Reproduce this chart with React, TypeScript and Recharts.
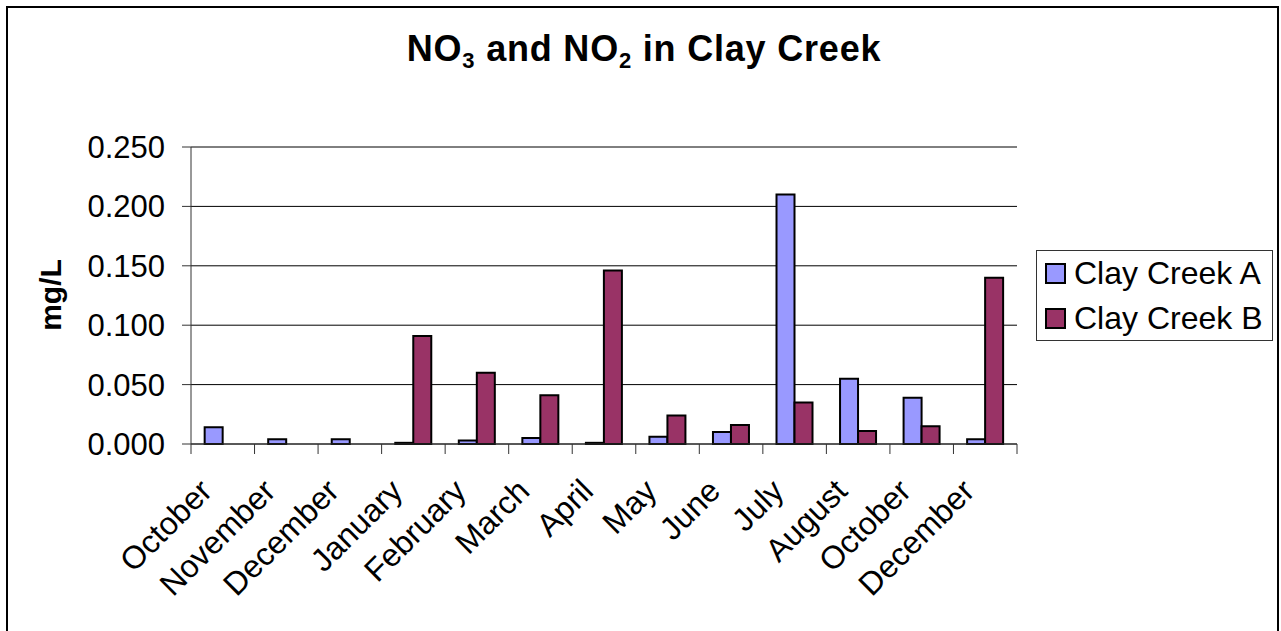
import React from "react";
import { BarChart, Bar, XAxis, YAxis, CartesianGrid } from "recharts";

const MONTHS = [
  "October", "November", "December", "January", "February", "March", "April",
  "May", "June", "July", "August", "October", "December",
];
const CLAY_A = [0.014, 0.004, 0.004, 0.001, 0.003, 0.005, 0.001, 0.006, 0.010, 0.210, 0.055, 0.039, 0.004];
const CLAY_B = [0, 0, 0, 0.091, 0.060, 0.041, 0.146, 0.024, 0.016, 0.035, 0.011, 0.015, 0.140];
const Y_TICKS = [0, 0.05, 0.1, 0.15, 0.2, 0.25];

const SERIES = [
  { key: "a", name: "Clay Creek A", color: "#9999FF" },
  { key: "b", name: "Clay Creek B", color: "#993366" },
];

const W = 1281;
const H = 631;
const FONT = '"Liberation Sans", Arial, sans-serif';
const PLOT_LEFT = 191;
const PLOT_RIGHT = 1017;
const PLOT_TOP = 147;
const PLOT_BOTTOM = 444;
const HALF_BAND = (PLOT_RIGHT - PLOT_LEFT) / MONTHS.length / 2;

const data = MONTHS.map((m, i) => ({ month: m, a: CLAY_A[i], b: CLAY_B[i] }));

// label rotated 45deg plus a tick mark at each category boundary
const MonthTick = (props: any) => {
  const { x, payload, index } = props;
  const tx = x - 9;
  const ty = PLOT_BOTTOM + 49;
  return (
    <g>
      <line x1={x - HALF_BAND} x2={x - HALF_BAND} y1={PLOT_BOTTOM} y2={PLOT_BOTTOM + 10} stroke="#333" />
      {index === MONTHS.length - 1 && (
        <line x1={x + HALF_BAND} x2={x + HALF_BAND} y1={PLOT_BOTTOM} y2={PLOT_BOTTOM + 10} stroke="#333" />
      )}
      <text
        x={tx}
        y={ty}
        textAnchor="end"
        fontSize={32}
        fontFamily={FONT}
        fill="#000"
        transform={`rotate(-45, ${tx}, ${ty})`}
      >
        {payload.value}
      </text>
    </g>
  );
};

export default function App() {
  return (
    <div style={{ position: "absolute", left: 0, top: 0, width: W, height: H, overflow: "hidden", background: "#fff" }}>
      <div
        style={{
          position: "absolute", left: 6, top: 6, width: 1273, height: 700,
          border: "2px solid #000", boxSizing: "border-box",
        }}
      />
      <BarChart
        width={W}
        height={H}
        data={data}
        margin={{ top: PLOT_TOP, right: W - PLOT_RIGHT, bottom: 0, left: 0 }}
        barCategoryGap="21.5%"
        barGap={0}
        style={{ position: "absolute", left: 0, top: 0 }}
      >
        <CartesianGrid vertical={false} stroke="#000" />
        <XAxis
          dataKey="month"
          interval={0}
          height={H - PLOT_BOTTOM}
          tickLine={false}
          axisLine={{ stroke: "#333" }}
          tick={<MonthTick />}
        />
        <YAxis
          width={PLOT_LEFT}
          domain={[0, 0.25]}
          ticks={Y_TICKS}
          tickFormatter={(v: number) => v.toFixed(3)}
          tickSize={9}
          tickMargin={17}
          tickLine={{ stroke: "#333" }}
          axisLine={{ stroke: "#333" }}
          tick={{ fill: "#000", fontSize: 31, fontFamily: FONT }}
        />
        {SERIES.map((s) => (
          <Bar
            key={s.key}
            dataKey={s.key}
            name={s.name}
            fill={s.color}
            stroke="#000"
            strokeWidth={2}
            isAnimationActive={false}
          />
        ))}
      </BarChart>
      <svg width={W} height={H} style={{ position: "absolute", left: 0, top: 0, pointerEvents: "none" }}>
        <text x={644} y={61} textAnchor="middle" fontFamily={FONT} fontWeight="bold" fontSize={36} letterSpacing={0.8} fill="#000">
          NO<tspan fontSize={22} dy={7}>3</tspan>
          <tspan dy={-7}> and NO</tspan>
          <tspan fontSize={22} dy={7}>2</tspan>
          <tspan dy={-7}> in Clay Creek</tspan>
        </text>
        <text
          x={61}
          y={295}
          textAnchor="middle"
          fontFamily={FONT}
          fontWeight="bold"
          fontSize={30}
          fill="#000"
          transform="rotate(-90, 61, 295)"
        >
          mg/L
        </text>
      </svg>
      <div
        style={{
          position: "absolute", left: 1036, top: 250, width: 237, height: 91,
          border: "1px solid #333", boxSizing: "border-box", background: "#fff",
          fontFamily: FONT, fontSize: 32,
        }}
      >
        {SERIES.map((s, i) => (
          <div key={s.key} style={{ position: "absolute", left: 8, top: 4 + i * 45, height: 36, display: "flex", alignItems: "center" }}>
            <div style={{ width: 17, height: 17, background: s.color, border: "2px solid #000", marginRight: 8 }} />
            <span style={{ lineHeight: "36px", whiteSpace: "nowrap" }}>{s.name}</span>
          </div>
        ))}
      </div>
    </div>
  );
}
